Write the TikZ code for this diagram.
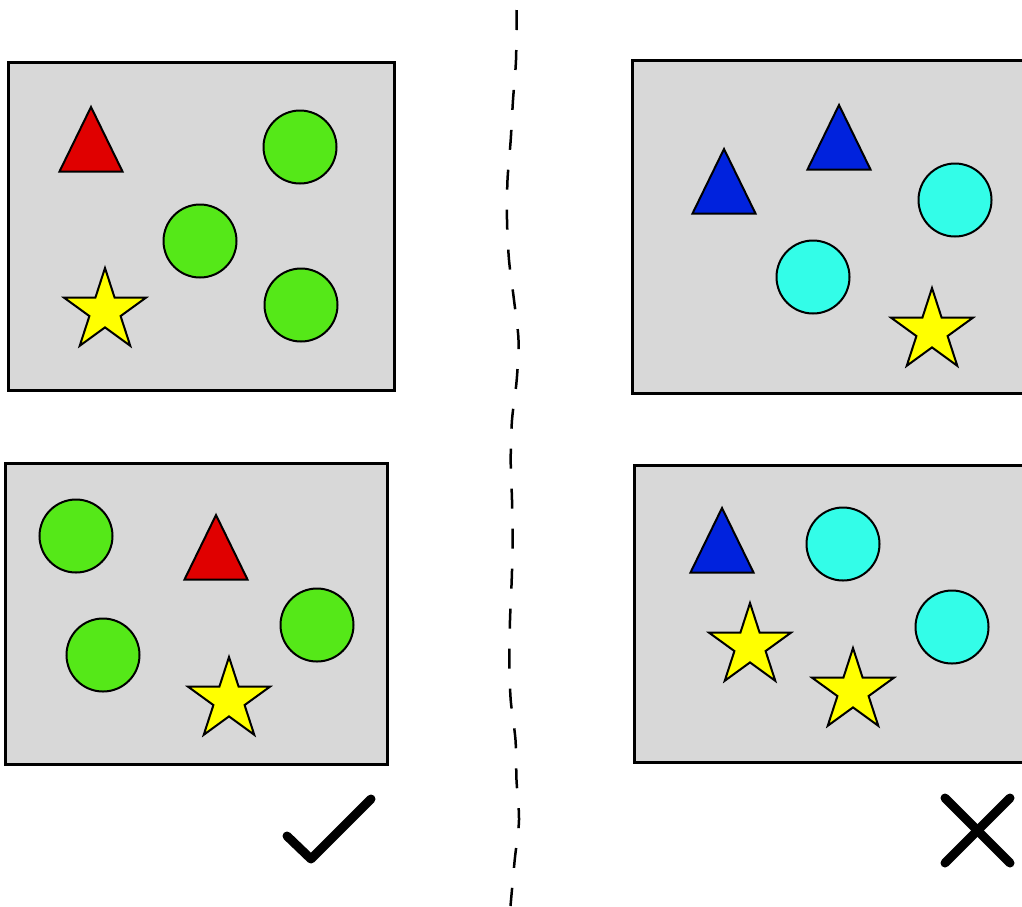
\documentclass[tikz,border=0pt]{standalone}
\definecolor{panelgray}{HTML}{D8D8D8}
\definecolor{shred}{HTML}{E00000}
\definecolor{shgreen}{HTML}{55E818}
\definecolor{shblue}{HTML}{0022DD}
\definecolor{shcyan}{HTML}{33FDE8}
\definecolor{shyellow}{HTML}{FFFF00}
\newcommand\fivestar[2]{%
  \draw[starsty]
    ([shift={(#1,#2)}]-90:43) -- ([shift={(#1,#2)}]-54:16.4) --
    ([shift={(#1,#2)}]-18:43) -- ([shift={(#1,#2)}]18:16.4) --
    ([shift={(#1,#2)}]54:43) -- ([shift={(#1,#2)}]90:16.4) --
    ([shift={(#1,#2)}]126:43) -- ([shift={(#1,#2)}]162:16.4) --
    ([shift={(#1,#2)}]198:43) -- ([shift={(#1,#2)}]234:16.4) -- cycle;}
\newcommand\tri[3]{%
  \draw[#3] (#1,#2) -- ++(31.5,64.5) -- ++(-63,0) -- cycle;}
\begin{document}
\begin{tikzpicture}[x=1pt,y=-1pt,
  panel/.style={draw=black,line width=3pt,fill=panelgray},
  starsty/.style={draw=black,line width=2pt,line join=miter,fill=shyellow},
  redtri/.style={draw=black,line width=2pt,fill=shred},
  bluetri/.style={draw=black,line width=2pt,fill=shblue},
  greendisc/.style={draw=black,line width=2pt,fill=shgreen},
  cyandisc/.style={draw=black,line width=2pt,fill=shcyan},
  divider/.style={draw=black,line width=2.5pt,dash pattern=on 20pt off 20pt},
  markstroke/.style={draw=black,line width=9pt,line cap=round,line join=round}]
\useasboundingbox (0,0) rectangle (1022,906);
\clip (0,0) rectangle (1022,906);

% wavy dashed divider
\draw[divider] plot[smooth] coordinates {
  (516.7,10) (516,60) (513,100) (510.7,140) (507.5,180) (507,220)
  (509,260) (514,300) (518.5,340) (516.7,380) (512,420) (510.7,460)
  (512,500) (512.7,540) (511.7,580) (510,620) (509.3,660) (510.7,700)
  (515.5,740) (516.5,780) (519,820) (514.7,860) (510.5,906)};

% top left panel
\draw[panel] (8,62) rectangle (394,390);
\tri{91}{107}{redtri}
\draw[greendisc] (300,147) circle (36.5);
\draw[greendisc] (200,241) circle (36.5);
\draw[greendisc] (301,305) circle (36.5);
\fivestar{105}{311}

% top right panel
\draw[panel] (632,60) rectangle (1040,393);
\tri{724}{149}{bluetri}
\tri{839}{105}{bluetri}
\draw[cyandisc] (955,200) circle (36.5);
\draw[cyandisc] (813,277) circle (36.5);
\fivestar{932}{331}

% bottom left panel
\draw[panel] (5,463) rectangle (387,764);
\draw[greendisc] (76,536) circle (36.5);
\draw[greendisc] (103,655) circle (36.5);
\draw[greendisc] (317,625) circle (36.5);
\tri{216}{515}{redtri}
\fivestar{229}{700}

% bottom right panel
\draw[panel] (634,465) rectangle (1040,762);
\tri{722}{508}{bluetri}
\draw[cyandisc] (843,544) circle (36.5);
\draw[cyandisc] (952,627) circle (36.5);
\fivestar{750}{646}
\fivestar{853}{691}

% check mark and cross
\draw[markstroke] (287,836) -- (311,859) -- (371,799);
\draw[markstroke] (945,798) -- (1010,863);
\draw[markstroke] (1010,798) -- (945,863);
\end{tikzpicture}
\end{document}
